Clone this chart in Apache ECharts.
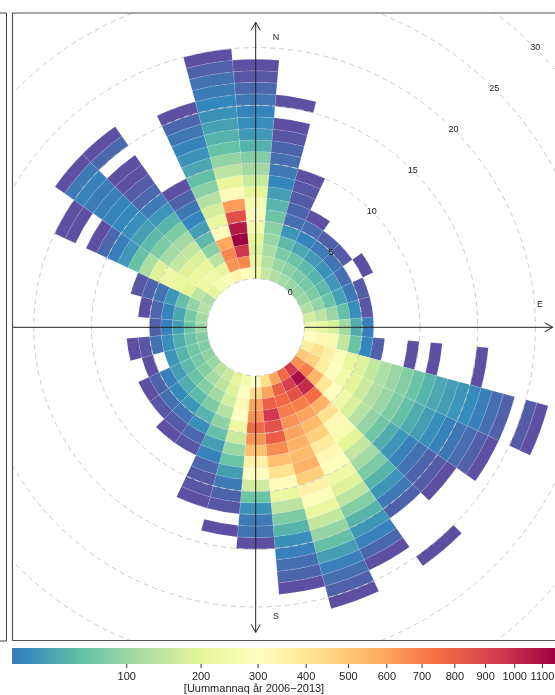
<!DOCTYPE html>
<html><head><meta charset="utf-8">
<script src="https://cdn.jsdelivr.net/npm/echarts@6/dist/echarts.min.js"></script>
<style>html,body{margin:0;padding:0;background:#fff}#c{width:555px;height:695px}</style>
</head><body><div id="c"></div>
<script>
// ---- data ----
const directions = [0,10,20,30,40,50,60,70,80,90,100,110,120,130,140,150,160,170,180,190,200,210,220,230,240,250,260,270,280,290,300,310,320,330,340,350];
const speedTicks = [0,5,10,15,20,25,30];
const colorTicks = [100,200,300,400,500,600,700,800,900,1000,1100];
const keyTitle = '[Uummannaq år 2006−2013]';
// counts per direction, index = wind speed bin (0-1, 1-2, ... m/s)
const d000 = [249,210,190,200,249,295,260,200,157,110,79,44,27,21,16,11,6,2,1];
const d010 = [150,130,115,100,85,62,46,30,17,12,8,5,2,1,0,1];
const d020 = [125,100,75,50,25,8,5,3,2,1];
const d030 = [110,85,60,35,16,7,1];
const d040 = [100,75,50,28,12,4];
const d050 = [95,70,45,24,10,3];
const d060 = [100,75,50,26,8,0,1];
const d070 = [125,95,60,32,12,3];
const d080 = [170,140,100,55,22,2];
const d090 = [240,220,180,110,40,14];
const d100 = [300,330,260,150,60,18,4,0,0,1,0,1,0,0,0,1];
const d110 = [380,420,360,280,210,190,150,120,100,80,60,45,36,30,25,20,14,8,4,0,3,1];
const d120 = [500,470,380,300,240,200,160,125,100,75,55,40,30,22,16,11,7,4,1];
const d130 = [650,700,550,400,300,240,180,130,95,65,40,25,15,9,5,3,1];
const d140 = [950,1100,1000,750,560,420,330,260,200,150,110,75,45,25,12,4,0,0,0,0,1];
const d150 = [760,930,850,700,600,540,470,380,330,290,230,190,140,80,45,25,15,6,1];
const d160 = [600,800,760,700,640,600,560,540,560,480,360,280,220,150,95,55,30,15,8,4,1];
const d170 = [430,600,800,950,850,800,660,520,420,320,220,140,75,45,22,15,8,5,1];
const d180 = [300,450,600,650,760,640,520,360,300,165,62,24,12,9,1];
const d190 = [250,300,330,300,230,160,100,60,30,12,5,2,0,1];
const d200 = [200,190,170,130,90,55,30,15,6,3,2,1];
const d210 = [160,140,110,75,45,22,6,2];
const d220 = [130,110,80,50,25,10,3,1];
const d230 = [100,80,60,40,20,8,2];
const d240 = [90,70,50,30,14,5,1];
const d250 = [80,65,45,25,0,1];
const d260 = [80,60,40,22,9,2,1];
const d270 = [100,62,30,14,4];
const d280 = [110,70,35,16,6,1];
const d290 = [130,95,55,25,10,5,2];
const d300 = [118,140,200,210,230,190,118,57,26,14,6,1,0,1,1];
const d310 = [200,230,220,190,150,110,75,50,30,22,18,16,14,13,15,12,1];
const d320 = [260,240,210,180,150,110,75,45,25,12,6,3,1,1,0,6,1];
const d330 = [280,220,140,85,50,30,18,11,5,1];
const d340 = [350,640,675,590,315,220,172,130,85,55,35,24,16,11,6,1];
const d350 = [300,680,960,1147,1060,857,620,315,210,140,92,57,44,32,23,18,13,9,4,1];

// ---- colour scale (sqrt, reversed Spectral) ----
const colorMin = 1, colorMax = 1147, keyStart = 13;
const palette = ['#5E4FA2','#3288BD','#66C2A5','#ABDDA4','#E6F598','#FFFFBF','#FEE08B','#FDAE61','#F46D43','#D53E4F','#9E0142'];
const pRGB = palette.map(h => [1,3,5].map(i => parseInt(h.substr(i,2),16)));
function colorFor(v){
  let t = (Math.sqrt(Math.max(v,colorMin)) - Math.sqrt(colorMin)) / (Math.sqrt(colorMax) - Math.sqrt(colorMin)) * 10;
  t = Math.max(0, Math.min(10, t));
  const i = Math.min(9, Math.floor(t)), f = t - i;
  const a = pRGB[i], b = pRGB[i+1];
  return 'rgb(' + a.map((c,j)=>Math.round(c + (b[j]-c)*f)).join(',') + ')';
}

const rows = [d000,d010,d020,d030,d040,d050,d060,d070,d080,d090,d100,d110,d120,d130,d140,d150,d160,d170,d180,d190,d200,d210,d220,d230,d240,d250,d260,d270,d280,d290,d300,d310,d320,d330,d340,d350];
const cells = [];
rows.forEach((arr, i) => arr.forEach((v, k) => { if (v > 0) cells.push([k + 0.5, directions[i], v]); }));

const C = [255.7, 327.3], R0 = 48.7, PX = 11.55;
const FONT = '"Liberation Sans", Arial, sans-serif';

function angOf(p, cx, cy){ return Math.atan2(p[1]-cy, p[0]-cx); }

function renderCell(params, api){
  const s = api.value(0), d = api.value(1), v = api.value(2);
  const cx = params.coordSys.cx, cy = params.coordSys.cy;
  const pin = api.coord([s - 0.5, d]), pout = api.coord([s + 0.5, d]);
  const r0 = Math.hypot(pin[0]-cx, pin[1]-cy), r = Math.hypot(pout[0]-cx, pout[1]-cy);
  const a = api.coord([s, (d + 355) % 360]), b = api.coord([s, (d + 5) % 360]);
  let sa = angOf(a, cx, cy), ea = angOf(b, cx, cy);
  while (ea < sa) ea += Math.PI * 2;
  return { type:'sector', shape:{cx:cx, cy:cy, r0:r0, r:r, startAngle:sa, endAngle:ea, clockwise:true},
    style:{fill: colorFor(v), stroke:'rgba(255,255,255,0.18)', lineWidth:0.6} };
}

// compass arms: [length in speed units, direction]; drawn from the calm circle outwards
const axisArms = [[22.2,0],[21.5,90],[22.2,180],[30,270]];
function renderArm(params, api){
  const d = api.value(1);
  const p = api.coord([api.value(0), d]);
  const q = api.coord([0, d]);
  const ux = (p[0]-q[0]), uy = (p[1]-q[1]), L = Math.hypot(ux, uy);
  const nx = ux / L, ny = uy / L;
  const children = [{type:'line', shape:{x1:q[0], y1:q[1], x2:p[0], y2:p[1]}, style:{stroke:'#222', lineWidth:1}}];
  children.push({type:'polyline', shape:{points:[[p[0]-8*nx-4.5*ny, p[1]-8*ny+4.5*nx],[p[0],p[1]],[p[0]-8*nx+4.5*ny, p[1]-8*ny-4.5*nx]]}, style:{stroke:'#222', lineWidth:1, fill:null}});
  return {type:'group', children};
}

function renderSpeedLabel(params, api){
  const p = api.coord([api.value(0), api.value(1)]);
  return {type:'text', x:p[0], y:p[1], style:{text:String(api.value(0)), fill:'#222', font:'9px ' + FONT, align:'center', verticalAlign:'middle'}};
}

function renderKey(params, api){
  const p0 = api.coord([api.value(0), 1]), p1 = api.coord([api.value(1), 0]);
  const stops = [];
  const lo = api.value(0), hi = api.value(1);
  for (let i = 0; i <= 40; i++){
    const sv = lo + (hi - lo) * i / 40;
    stops.push({offset: i / 40, color: colorFor(sv * sv)});
  }
  return {type:'rect', shape:{x:p0[0], y:p0[1], width:p1[0]-p0[0], height:p1[1]-p0[1]},
    style:{fill:{type:'linear', x:0, y:0, x2:1, y2:0, colorStops:stops}}};
}

function renderTick(params, api){
  const p = api.coord([api.value(0), 0]);
  return {type:'group', children:[
    {type:'line', shape:{x1:p[0], y1:p[1], x2:p[0], y2:p[1]+4}, style:{stroke:'#333', lineWidth:1}},
    {type:'text', x:p[0], y:p[1]+13, style:{text:String(api.value(1)), fill:'#222', font:'11px ' + FONT, align:'center', verticalAlign:'middle'}}
  ]};
}

const chart = echarts.init(document.getElementById('c'), null, {renderer:'canvas'});
chart.setOption({
  animation: false,
  polar: {center: C, radius: [R0, R0 + PX * 30]},
  radiusAxis: {type:'value', min:0, max:30, interval:5, z:5,
    axisLine:{show:false}, axisTick:{show:false}, axisLabel:{show:false},
    splitLine:{show:true, lineStyle:{color:'#c9c9c9', type:[5,4], width:1}}},
  angleAxis: {type:'value', min:0, max:360, startAngle:90, clockwise:true,
    axisLine:{show:false}, axisTick:{show:false}, axisLabel:{show:false}, splitLine:{show:false}},
  grid: {left:12, width:543, top:648, height:16},
  xAxis: {type:'value', min:Math.sqrt(keyStart), max:Math.sqrt(colorMax), show:false},
  yAxis: {type:'value', min:0, max:1, show:false},
  graphic: [
    {type:'rect', z:50, shape:{x:0,y:0,width:555,height:12.5}, style:{fill:'#fff'}},
    {type:'rect', z:50, shape:{x:0,y:0,width:12,height:695}, style:{fill:'#fff'}},
    {type:'rect', z:50, shape:{x:0,y:641,width:555,height:54}, style:{fill:'#fff'}},
    {type:'rect', z:60, shape:{x:12.5,y:13,width:560,height:627.5}, style:{fill:null, stroke:'#555', lineWidth:1.2}},
    {type:'polyline', z:60, shape:{points:[[0,13],[6.5,13],[6.5,641],[0,641]]}, style:{fill:null, stroke:'#444', lineWidth:1}},
    {type:'text', z:60, x:276, y:38, style:{text:'N', font:'9px ' + FONT, fill:'#222', align:'center', verticalAlign:'middle'}},
    {type:'text', z:60, x:540, y:305, style:{text:'E', font:'9px ' + FONT, fill:'#222', align:'center', verticalAlign:'middle'}},
    {type:'text', z:60, x:276, y:617, style:{text:'S', font:'9px ' + FONT, fill:'#222', align:'center', verticalAlign:'middle'}},
    {type:'text', z:60, x:254, y:689, style:{text:keyTitle, font:'11px ' + FONT, fill:'#222', align:'center', verticalAlign:'middle'}}
  ],
  series: [
    {type:'custom', coordinateSystem:'polar', polarIndex:0, z:2, data:cells, encode:{radius:0, angle:1}, renderItem:renderCell, silent:true},
    {type:'custom', coordinateSystem:'polar', polarIndex:0, z:8, data:axisArms, encode:{radius:0, angle:1}, renderItem:renderArm, silent:true},
    {type:'custom', coordinateSystem:'polar', polarIndex:0, z:9, data:speedTicks.map(s => [s, 45]), encode:{radius:0, angle:1}, renderItem:renderSpeedLabel, silent:true},
    {type:'custom', coordinateSystem:'cartesian2d', z:70, data:[[Math.sqrt(keyStart), Math.sqrt(colorMax)]], renderItem:renderKey, silent:true},
    {type:'custom', coordinateSystem:'cartesian2d', z:70, data:colorTicks.map(v => [Math.sqrt(v), v]), renderItem:renderTick, silent:true}
  ]
});
</script></body></html>
